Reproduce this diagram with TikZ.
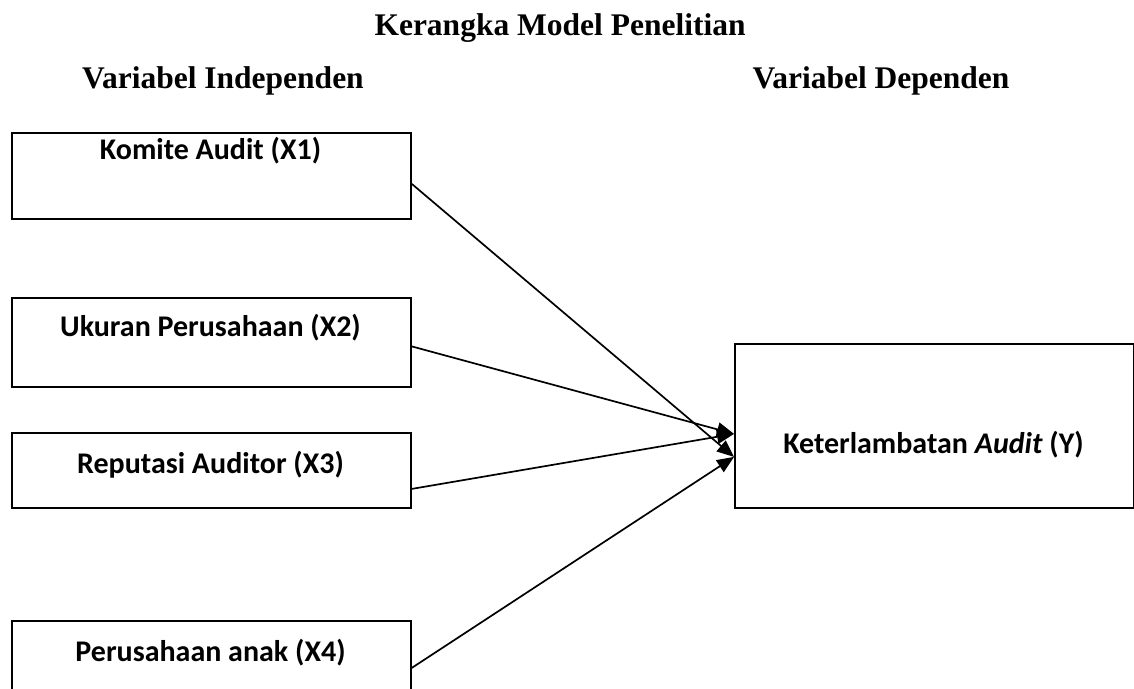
\documentclass[tikz,border=0pt]{standalone}
\usepackage{fontspec}
\setmainfont{Liberation Serif}
\newfontfamily\boxfont{Carlito}
\usetikzlibrary{arrows.meta}
\tikzset{
  vbox/.style={draw, line width=1.8pt, minimum width=399pt, inner sep=0pt, anchor=north west},
  vtext/.style={font=\boxfont\bfseries\fontsize{30}{32}\selectfont, anchor=base, inner sep=0pt},
  head/.style={font=\bfseries\fontsize{31.5}{34}\selectfont, anchor=base, inner sep=0pt},
  conn/.style={line width=1.7pt, -{Triangle[length=17pt,width=14pt]}}
}
\begin{document}
\begin{tikzpicture}[x=1pt,y=-1pt]
\useasboundingbox (0,0) rectangle (1134,688);
\node[head] (title) at (560,35) {Kerangka Model Penelitian};
\node[head] (hi) at (223,88) {Variabel Independen};
\node[head] (hd) at (881,88) {Variabel Dependen};
\node[vbox, minimum height=86pt] (b1) at (11,132) {};
\node[vbox, minimum height=89pt] (b2) at (11,297) {};
\node[vbox, minimum height=75pt] (b3) at (11,432) {};
\node[vbox, minimum height=72pt] (b4) at (11,620) {};
\node[vbox, minimum height=164pt] (by) at (734,343) {};
\node[vtext] (t1) at (210.5,159) {Komite Audit (X1)};
\node[vtext] (t2) at (210.5,336) {Ukuran Perusahaan (X2)};
\node[vtext] (t3) at (210.5,473) {Reputasi Auditor (X3)};
\node[vtext] (t4) at (210.5,661) {Perusahaan anak (X4)};
\node[vtext] (ty) at (933.5,453) {Keterlambatan \textit{Audit} (Y)};
\draw[conn] ([yshift=-8pt]b1.east) -- ([yshift=-31pt]by.west);
\draw[conn] ([yshift=-4pt]b2.east) -- ([yshift=-8pt]by.west);
\draw[conn] ([yshift=-18.5pt]b3.east) -- ([yshift=-8pt]by.west);
\draw[conn] ([yshift=-11pt]b4.east) -- ([yshift=-31pt]by.west);
\end{tikzpicture}
\end{document}
